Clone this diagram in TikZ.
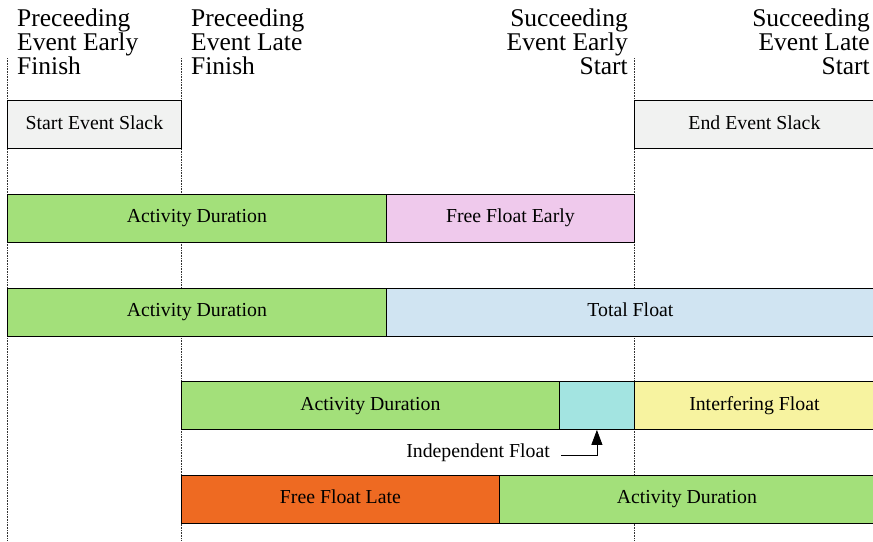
\documentclass[tikz,border=0pt]{standalone}
\usepackage{fontspec}
\setmainfont{Liberation Serif}
\usetikzlibrary{arrows.meta,calc}
\definecolor{slackgray}{HTML}{F1F2F1}
\definecolor{durgreen}{HTML}{A3E07A}
\definecolor{ffpink}{HTML}{EFC9EC}
\definecolor{tfblue}{HTML}{D0E4F2}
\definecolor{ifcyan}{HTML}{A3E4E1}
\definecolor{intyellow}{HTML}{F7F3A0}
\definecolor{fforange}{HTML}{EE6A22}
\tikzset{
  bar/.style={draw=black, line width=0.8pt, minimum height=48pt, inner sep=0pt,
    anchor=west, text height=13pt, text depth=4pt, font=\fontsize{19.8}{22}\selectfont},
  header/.style={inner sep=0pt, font=\fontsize{25.5}{24}\selectfont},
  guide/.style={densely dotted, line width=0.6pt, black!80},
}
\begin{document}
\begin{tikzpicture}[x=1pt,y=-1pt]
\useasboundingbox (0,0) rectangle (873,541);
% event guide lines
\coordinate (g1t) at (7,58);    \coordinate (g1b) at (7,541);
\coordinate (g2t) at (181,58);  \coordinate (g2b) at (181,541);
\coordinate (g3t) at (634,58);  \coordinate (g3b) at (634,541);
\draw[guide] (g1t) -- (g1b);
\draw[guide] (g2t) -- (g2b);
\draw[guide] (g3t) -- (g3b);
% headings
\node[header, anchor=north west, align=left] (pef) at (17,8.5) {Preceeding\\Event Early\\Finish};
\node[header, anchor=north west, align=left] (plf) at (191,8.5) {Preceeding\\Event Late\\Finish};
\node[header, anchor=north east, align=right] (ses) at (628,8.5) {Succeeding\\Event Early\\Start};
\node[header, anchor=north east, align=right] (sls) at (870,8.5) {Succeeding\\Event Late\\Start};
% row 1: event slack
\node[bar, fill=slackgray, minimum width=174pt] (sslack) at (7,124.5) {Start Event Slack};
\node[bar, fill=slackgray, minimum width=240pt] (eslack) at (634,124.5) {End Event Slack};
% row 2
\node[bar, fill=durgreen, minimum width=379pt] (ad1) at (7,218) {Activity Duration};
\node[bar, fill=ffpink, minimum width=248pt] (ffe) at (386,218) {Free Float Early};
% row 3
\node[bar, fill=durgreen, minimum width=379pt] (ad2) at (7,312) {Activity Duration};
\node[bar, fill=tfblue, minimum width=488pt] (tf) at (386,312) {Total Float};
% row 4
\node[bar, fill=durgreen, minimum width=378pt] (ad3) at (181,405.5) {Activity Duration};
\node[bar, fill=ifcyan, minimum width=75pt] (indf) at (559,405.5) {};
\node[bar, fill=intyellow, minimum width=240pt] (intf) at (634,405.5) {Interfering Float};
% row 5
\node[bar, fill=fforange, minimum width=318pt] (ffl) at (181,499) {Free Float Late};
\node[bar, fill=durgreen, minimum width=375pt] (ad4) at (499,499) {Activity Duration};
% independent float label and pointer
\node[font=\fontsize{19.8}{22}\selectfont, inner sep=0pt, anchor=east] (indlbl) at (550,453) {Independent Float};
\draw[line width=0.8pt, -{Triangle[width=11pt,length=15pt]}]
  ($(indlbl.east)+(11,2)$) -| (indf.south);
\end{tikzpicture}
\end{document}
